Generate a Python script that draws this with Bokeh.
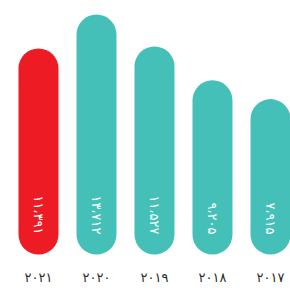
import numpy as np
from bokeh.plotting import figure
from bokeh.models import Range1d, FixedTicker, ColumnDataSource
from bokeh.embed import file_html
from bokeh.resources import INLINE
from bokeh.core.properties import value

# Data (years shown right-to-left, Persian digits)
years = ["۲۰۲۱", "۲۰۲۰", "۲۰۱۹", "۲۰۱۸", "۲۰۱۷"]
values = [11391, 13712, 11527, 9205, 7915]
value_labels = ["۱۱،۳۹۱", "۱۳،۷۱۲", "۱۱،۵۲۷", "۹،۲۰۵", "۷،۹۱۵"]

RED = "#ED1C24"
TEAL = "#45C0B8"
bar_colors = [RED] + [TEAL] * (len(years) - 1)

idx = list(range(len(years)))
src = ColumnDataSource(dict(x=idx, v=values, label=value_labels, color=bar_colors))

p = figure(width=290, height=295, output_backend="svg", toolbar_location=None,
           x_range=Range1d(-0.655, 4.345), y_range=Range1d(-1646, 16051),
           min_border_left=0, min_border_right=0, min_border_top=0, min_border_bottom=37)

p.segment(x0="x", y0=0, x1="x", y1="v", source=src, line_width=40,
          line_cap="round", line_color="color")

p.text(x="x", y=0, text="label", source=src, angle=-np.pi / 2,
       text_align="right", text_baseline="middle", text_color="white",
       text_font=value("DejaVu Sans"), text_font_size="13px")

p.xaxis.ticker = FixedTicker(ticks=idx)
p.xaxis.major_label_overrides = {i: years[i] for i in idx}
p.xaxis.axis_line_color = None
p.xaxis.major_tick_line_color = None
p.xaxis.minor_tick_line_color = None
p.xaxis.major_tick_out = 0
p.xaxis.major_tick_in = 0
p.xaxis.major_label_standoff = 11
p.xaxis.major_label_text_font = "DejaVu Sans"
p.xaxis.major_label_text_font_size = "13px"
p.xaxis.major_label_text_color = "#2b2b2b"
p.yaxis.visible = False
p.grid.visible = False
p.outline_line_color = None
p.background_fill_color = "white"
p.border_fill_color = "white"

open("out.html", "w").write(file_html(p, INLINE))
